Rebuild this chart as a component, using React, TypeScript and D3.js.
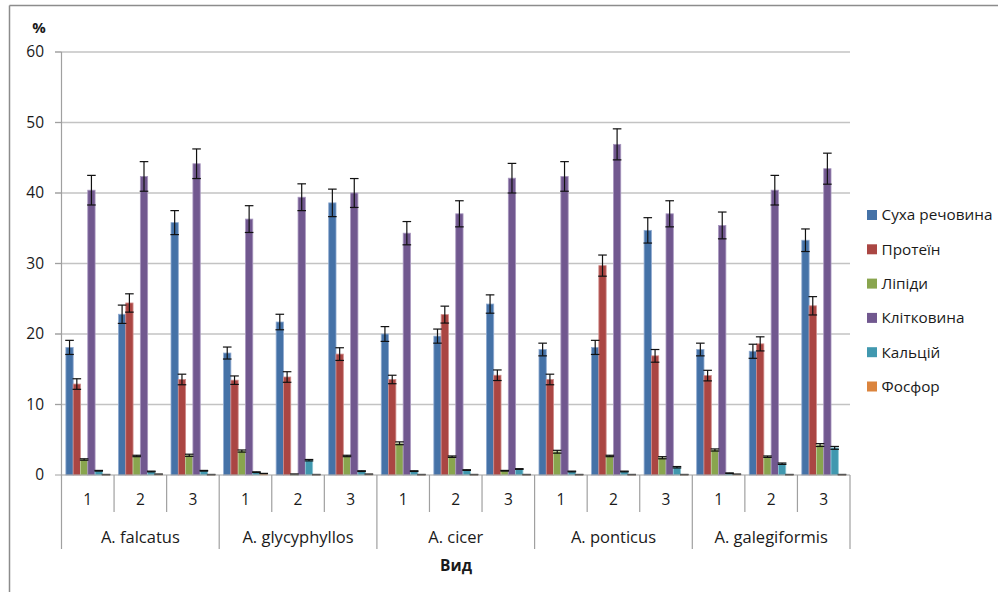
import React from "react";
import * as d3 from "d3";

const groups = ["A. falcatus", "A. glycyphyllos", "A. cicer", "A. ponticus", "A. galegiformis"];
const subLabels = ["1", "2", "3"];
const seriesNames = ["Суха речовина", "Протеїн", "Ліпіди", "Клітковина", "Кальцій", "Фосфор"];
const seriesColors = ["#4572A7", "#AA4643", "#89A54E", "#71588F", "#4198AF", "#DB843D"];
const seriesStroke = ["#8FAAD0", "#D08C8A", "#BCD19A", "#A897BF", "#8CC7D6", "#F0B98A"];

const dryMatter = [18.1, 22.8, 35.8, 17.3, 21.7, 38.6, 20.0, 19.7, 24.25, 17.8, 18.1, 34.7, 17.8, 17.55, 33.3];
const dryMatterErr = [1.0, 1.3, 1.7, 0.85, 1.1, 1.95, 1.05, 1.0, 1.3, 0.9, 1.0, 1.8, 0.9, 1.0, 1.6];
const protein = [12.9, 24.4, 13.55, 13.45, 13.9, 17.15, 13.55, 22.75, 14.15, 13.55, 29.7, 16.9, 14.1, 18.6, 24.0];
const proteinErr = [0.75, 1.3, 0.75, 0.6, 0.75, 0.9, 0.6, 1.2, 0.75, 0.75, 1.5, 0.9, 0.75, 1.0, 1.3];
const lipids = [2.2, 2.7, 2.8, 3.4, 0.1, 2.7, 4.5, 2.6, 0.6, 3.3, 2.7, 2.45, 3.55, 2.6, 4.25];
const lipidsErr = [0.1, 0.1, 0.15, 0.15, 0.05, 0.1, 0.2, 0.1, 0.05, 0.2, 0.1, 0.15, 0.15, 0.1, 0.2];
const fiber = [40.4, 42.35, 44.15, 36.3, 39.4, 40.0, 34.3, 37.05, 42.1, 42.35, 46.9, 37.05, 35.4, 40.4, 43.45];
const fiberErr = [2.1, 2.1, 2.1, 1.9, 1.9, 2.05, 1.65, 1.85, 2.1, 2.1, 2.2, 1.85, 1.9, 2.1, 2.2];
const calcium = [0.6, 0.5, 0.6, 0.4, 2.1, 0.55, 0.55, 0.7, 0.85, 0.5, 0.5, 1.1, 0.25, 1.6, 3.85];
const calciumErr = [0.05, 0.05, 0.05, 0.05, 0.1, 0.05, 0.05, 0.05, 0.05, 0.05, 0.05, 0.1, 0.05, 0.1, 0.2];
const phosphorus = [0.05, 0.1, 0.05, 0.2, 0.05, 0.1, 0.05, 0.05, 0.05, 0.05, 0.05, 0.05, 0.1, 0.05, 0.05];
const phosphorusErr = [0.03, 0.03, 0.03, 0.03, 0.03, 0.03, 0.03, 0.03, 0.03, 0.03, 0.03, 0.03, 0.03, 0.03, 0.03];

const yTicks = [0, 10, 20, 30, 40, 50, 60];

const seriesValues = [dryMatter, protein, lipids, fiber, calcium, phosphorus];
const seriesErrors = [dryMatterErr, proteinErr, lipidsErr, fiberErr, calciumErr, phosphorusErr];

const W = 998;
const H = 592;
const FONT = "'Open Sans', 'Noto Sans', sans-serif";

export default function App() {
  const left = 61.5;
  const right = 850;
  const yScale = d3.scaleLinear().domain([0, 60]).range([475, 52]);
  const cats = d3.range(groups.length * subLabels.length);
  const x = d3.scaleBand<number>().domain(cats).range([left, right]).paddingInner(0).paddingOuter(0);
  const xs = d3.scaleBand<number>().domain(d3.range(seriesNames.length)).range([0, x.bandwidth()]).paddingInner(0).paddingOuter(0.6);
  const bw = xs.bandwidth();
  const gx = d3.scaleBand<number>().domain(d3.range(groups.length)).range([left, right]);
  const y0 = yScale(0);

  return (
    <svg width={W} height={H} style={{ position: "absolute", left: 0, top: 0, background: "#fff" }} fontFamily={FONT}>
      <rect x={0} y={0} width={W} height={H} fill="#fff" />
      {/* outer frame */}
      <line x1={9.5} y1={5.5} x2={W} y2={5.5} stroke="#8c8c8c" strokeWidth={1.5} />
      <line x1={9.5} y1={5.5} x2={9.5} y2={H} stroke="#8c8c8c" strokeWidth={1.5} />

      {/* gridlines */}
      {yTicks.map((t) => (
        <g key={t}>
          {t > 0 && <line x1={55} x2={right} y1={yScale(t)} y2={yScale(t)} stroke="#c3c3c3" strokeWidth={1.5} />}
          <line x1={55} x2={left} y1={yScale(t)} y2={yScale(t)} stroke="#a0a0a0" strokeWidth={1} />
          <text x={44} y={yScale(t)} dy="0.35em" textAnchor="end" fontSize={15.5} fill="#1a1a1a">{t}</text>
        </g>
      ))}
      <text x={39} y={28} dy="0.35em" textAnchor="middle" fontSize={15} fontWeight="bold" fill="#1a1a1a">%</text>

      {/* bars */}
      {seriesValues.map((vals, s) => (
        <g key={s}>
          {vals.map((v, i) => {
            const bx = (x(i) as number) + (xs(s) as number);
            const by = yScale(v);
            return (
              <rect key={i} x={bx} y={by} width={bw} height={y0 - by} fill={seriesColors[s]} stroke={seriesStroke[s]} strokeWidth={0.8} />
            );
          })}
        </g>
      ))}
      {/* error bars */}
      {seriesValues.map((vals, s) => (
        <g key={"e" + s} stroke="#111" strokeWidth={1.2}>
          {vals.map((v, i) => {
            const cx = (x(i) as number) + (xs(s) as number) + bw / 2;
            const e = seriesErrors[s][i];
            const yt = yScale(v + e);
            const yb = yScale(Math.max(0, v - e));
            const hw = 4.3;
            return (
              <g key={i}>
                <line x1={cx} x2={cx} y1={yt} y2={yb} />
                <line x1={cx - hw} x2={cx + hw} y1={yt} y2={yt} />
                <line x1={cx - hw} x2={cx + hw} y1={yb} y2={yb} />
              </g>
            );
          })}
        </g>
      ))}

      {/* axes */}
      <line x1={left} x2={left} y1={yScale(60)} y2={549} stroke="#a0a0a0" strokeWidth={1.2} />
      <line x1={left} x2={right} y1={y0} y2={y0} stroke="#a0a0a0" strokeWidth={1.2} />
      {cats.map((i) => {
        const xx = (x(i) as number) + x.bandwidth();
        const isGroupEnd = (i + 1) % subLabels.length === 0;
        return <line key={"t" + i} x1={xx} x2={xx} y1={y0} y2={isGroupEnd ? 549 : 512} stroke="#a0a0a0" strokeWidth={1.2} />;
      })}
      {cats.map((i) => (
        <text key={"l" + i} x={(x(i) as number) + x.bandwidth() / 2} y={500} dy="0.35em" textAnchor="middle" fontSize={15.5} fill="#1a1a1a">
          {subLabels[i % subLabels.length]}
        </text>
      ))}
      {groups.map((g, gi) => (
        <text key={g} x={(gx(gi) as number) + gx.bandwidth() / 2} y={537} dy="0.35em" textAnchor="middle" fontSize={16.5} fill="#1a1a1a">
          {g}
        </text>
      ))}
      <text x={456} y={566} dy="0.35em" textAnchor="middle" fontSize={15.5} fontWeight="bold" fill="#1a1a1a">Вид</text>

      {/* legend */}
      {seriesNames.map((n, s) => {
        const ly = 215 + s * 34.3;
        return (
          <g key={n}>
            <rect x={867} y={ly - 5} width={10} height={10} fill={seriesColors[s]} />
            <text x={881.5} y={ly} dy="0.35em" fontSize={15.3} fill="#1a1a1a">{n}</text>
          </g>
        );
      })}
    </svg>
  );
}
